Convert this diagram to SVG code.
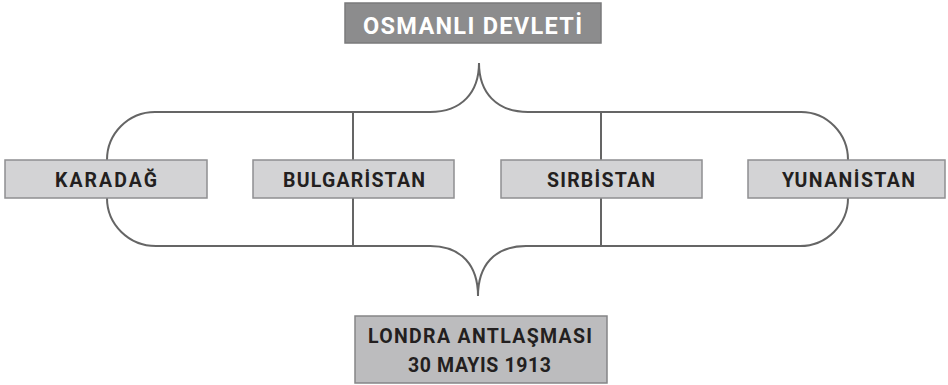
<svg xmlns="http://www.w3.org/2000/svg" width="948" height="385" viewBox="0 0 948 385">
<style>
.box{fill:#d3d3d5;stroke:#8f8f91;stroke-width:1.5}
.lbl{font-family:Roboto,"Liberation Sans",sans-serif;font-weight:bold;font-size:19.5px;fill:#231f20;text-anchor:middle}
.con{fill:none;stroke:#656565;stroke-width:2}
</style>
<rect width="948" height="385" fill="#ffffff"/>
<g id="connectors">
<path class="con" d="M107,160 A48,48 0 0 1 155,112 L430,112 C462,112 479,92 479,63 C479,92 496,112 528,112 L801,112 A47,48 0 0 1 848,160"/>
<path class="con" d="M107,198 A49,48 0 0 0 156,246 L430,246 C462,246 478,266 478,296 C478,266 494,246 526,246 L800,246 A48,48 0 0 0 848,198"/>
<path class="con" d="M353,112 V160 M353,198 V246 M601,112 V160 M601,198 V246"/>
</g>
<g id="osmanli">
<rect x="345" y="3" width="256" height="40" fill="#8c8c8d" stroke="#7a7a7b" stroke-width="1.5"/>
<text x="472.5" y="33.5" font-family="Roboto,'Liberation Sans',sans-serif" font-weight="bold" font-size="23.5" fill="#ffffff" text-anchor="middle" textLength="219" lengthAdjust="spacing">OSMANLI DEVLETİ</text>
</g>
<g id="karadag">
<rect class="box" x="5" y="160" width="202" height="38"/>
<text class="lbl" x="106" y="186.5" textLength="102" lengthAdjust="spacing">KARADAĞ</text>
</g>
<g id="bulgaristan">
<rect class="box" x="253" y="160" width="201" height="38"/>
<text class="lbl" x="354" y="186.5" textLength="142" lengthAdjust="spacing">BULGARİSTAN</text>
</g>
<g id="sirbistan">
<rect class="box" x="501" y="160" width="201" height="38"/>
<text class="lbl" x="601" y="186.5" textLength="108" lengthAdjust="spacing">SIRBİSTAN</text>
</g>
<g id="yunanistan">
<rect class="box" x="748" y="160" width="197" height="38"/>
<text class="lbl" x="848.5" y="186.5" textLength="133" lengthAdjust="spacing">YUNANİSTAN</text>
</g>
<g id="londra">
<rect x="355" y="316" width="252" height="67" fill="#bcbcbe" stroke="#858587" stroke-width="1.5"/>
<text class="lbl" x="480" y="342.5" font-size="21.5" textLength="224" lengthAdjust="spacing">LONDRA ANTLAŞMASI</text>
<text class="lbl" x="479.5" y="371.5" font-size="21.5" textLength="143" lengthAdjust="spacing">30 MAYIS 1913</text>
</g>
</svg>
